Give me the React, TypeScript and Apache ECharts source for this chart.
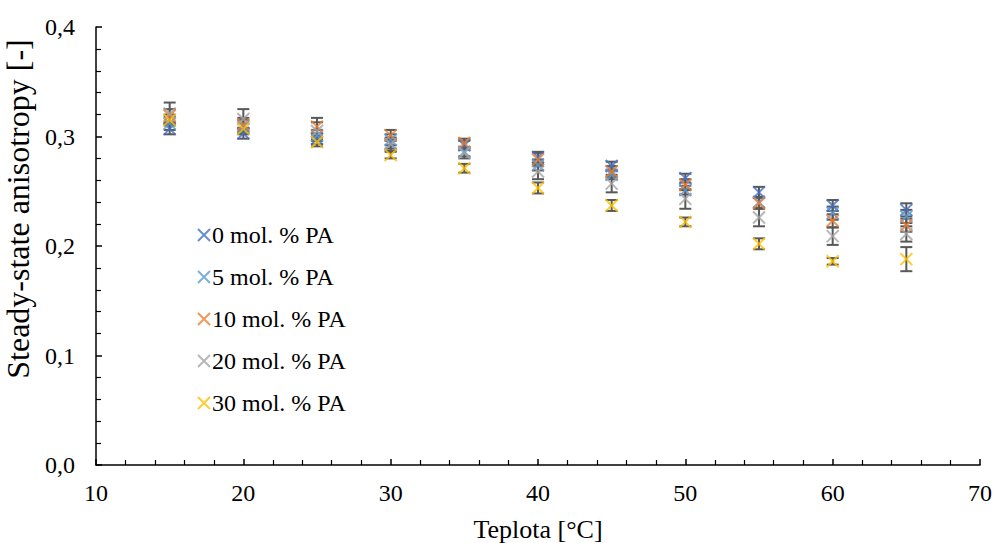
import React, { useEffect, useRef } from "react";
import * as echarts from "echarts";

const temps = [15, 20, 25, 30, 35, 40, 45, 50, 55, 60, 65];

const seriesNames = ["0 mol. % PA", "5 mol. % PA", "10 mol. % PA", "20 mol. % PA", "30 mol. % PA"];
const seriesColors = ["#4472C4", "#5B9BD5", "#ED7D31", "#A5A5A5", "#FFC000"];

const pa0 = [0.307, 0.303, 0.298, 0.293, 0.292, 0.281, 0.273, 0.262, 0.249, 0.237, 0.233];
const pa5 = [0.312, 0.309, 0.301, 0.297, 0.286, 0.274, 0.265, 0.251, 0.240, 0.230, 0.227];
const pa10 = [0.319, 0.311, 0.309, 0.301, 0.294, 0.279, 0.268, 0.256, 0.239, 0.223, 0.219];
const pa20 = [0.321, 0.316, 0.305, 0.293, 0.285, 0.268, 0.257, 0.243, 0.226, 0.209, 0.211];
const pa30 = [0.315, 0.307, 0.295, 0.283, 0.271, 0.253, 0.237, 0.222, 0.202, 0.186, 0.188];

const err0 = [0.005, 0.005, 0.005, 0.004, 0.004, 0.005, 0.004, 0.004, 0.005, 0.005, 0.006];
const err5 = [0.006, 0.006, 0.005, 0.005, 0.004, 0.005, 0.004, 0.004, 0.005, 0.006, 0.006];
const err10 = [0.006, 0.006, 0.008, 0.005, 0.004, 0.006, 0.005, 0.005, 0.005, 0.006, 0.006];
const err20 = [0.010, 0.009, 0.008, 0.006, 0.005, 0.007, 0.008, 0.009, 0.008, 0.008, 0.007];
const err30 = [0.005, 0.005, 0.004, 0.003, 0.004, 0.005, 0.005, 0.004, 0.005, 0.003, 0.011];

const values = [pa0, pa5, pa10, pa20, pa30];
const errors = [err0, err5, err10, err20, err30];

const FONT = "Liberation Serif";
const CROSS = "path://M0,0L10,10M10,0L0,10";

export default function App() {
  const ref = useRef<HTMLDivElement>(null);
  useEffect(() => {
    if (!ref.current) return;
    const chart = echarts.init(ref.current, null, { renderer: "svg" });

    const errSeries = values.map((vals, si) => ({
      type: "custom",
      name: "err" + si,
      z: 1,
      data: vals.map((v, i) => [temps[i], v, errors[si][i]]),
      encode: { x: 0, y: 1 },
      renderItem: (params: any, api: any) => {
        const x = api.value(0);
        const y = api.value(1);
        const e = api.value(2);
        const top = api.coord([x, y + e]);
        const bot = api.coord([x, y - e]);
        const hw = 6;
        const style = { stroke: "#595959", lineWidth: 2 };
        return {
          type: "group",
          children: [
            { type: "line", shape: { x1: top[0], y1: top[1], x2: bot[0], y2: bot[1] }, style },
            { type: "line", shape: { x1: top[0] - hw, y1: top[1], x2: top[0] + hw, y2: top[1] }, style },
            { type: "line", shape: { x1: bot[0] - hw, y1: bot[1], x2: bot[0] + hw, y2: bot[1] }, style },
          ],
        };
      },
    }));

    const pointSeries = values.map((vals, si) => ({
      type: "scatter",
      name: seriesNames[si],
      z: 2 + si,
      symbol: CROSS,
      symbolSize: 12,
      itemStyle: { color: "rgba(0,0,0,0)", borderColor: seriesColors[si], borderWidth: 2 },
      data: vals.map((v, i) => [temps[i], v]),
    }));

    chart.setOption({
      animation: false,
      grid: { left: 96, right: 16, top: 27, bottom: 78, containLabel: false, outerBoundsMode: "none" },
      legend: {
        orient: "vertical",
        left: 192,
        top: 218,
        itemWidth: 12,
        itemHeight: 12,
        itemGap: 18,
        textStyle: { fontFamily: FONT, fontSize: 24, lineHeight: 24, color: "#000", padding: [0, 0, 0, -3] },
        data: seriesNames.map((n, i) => ({
          name: n,
          icon: CROSS,
          itemStyle: { color: "rgba(0,0,0,0)", borderColor: seriesColors[i], borderWidth: 2 },
        })),
      },
      xAxis: {
        type: "value",
        min: 10,
        max: 70,
        interval: 10,
        name: "Teplota [°C]",
        nameLocation: "middle",
        nameGap: 51,
        nameTextStyle: { fontFamily: FONT, fontSize: 26, color: "#000" },
        axisLine: { show: true, onZero: false, lineStyle: { color: "#000", width: 1.5 } },
        axisTick: { show: true, inside: true, length: 6, lineStyle: { color: "#000", width: 1.5 } },
        minorTick: { show: true, splitNumber: 5, length: 5, lineStyle: { color: "#000", width: 1.2 } },
        axisLabel: { fontFamily: FONT, fontSize: 24, color: "#000", margin: 16 },
        splitLine: { show: false },
      },
      yAxis: {
        type: "value",
        min: 0,
        max: 0.4,
        interval: 0.1,
        name: "Steady-state anisotropy [-]",
        nameLocation: "middle",
        nameGap: 54,
        nameTextStyle: { fontFamily: FONT, fontSize: 32, color: "#000", padding: [0, 0, 0, 74] },
        axisLine: { show: true, onZero: false, lineStyle: { color: "#000", width: 1.5 } },
        axisTick: { show: true, inside: true, length: 6, lineStyle: { color: "#000", width: 1.5 } },
        minorTick: { show: true, splitNumber: 5, length: 5, lineStyle: { color: "#000", width: 1.2 } },
        axisLabel: {
          fontFamily: FONT,
          fontSize: 24,
          color: "#000",
          margin: 21,
          formatter: (v: number) => v.toFixed(1).replace(".", ","),
        },
        splitLine: { show: false },
      },
      series: [...errSeries, ...pointSeries],
    });
    return () => chart.dispose();
  }, []);
  return <div ref={ref} style={{ position: "absolute", left: 0, top: 0, width: 996, height: 543 }} />;
}
